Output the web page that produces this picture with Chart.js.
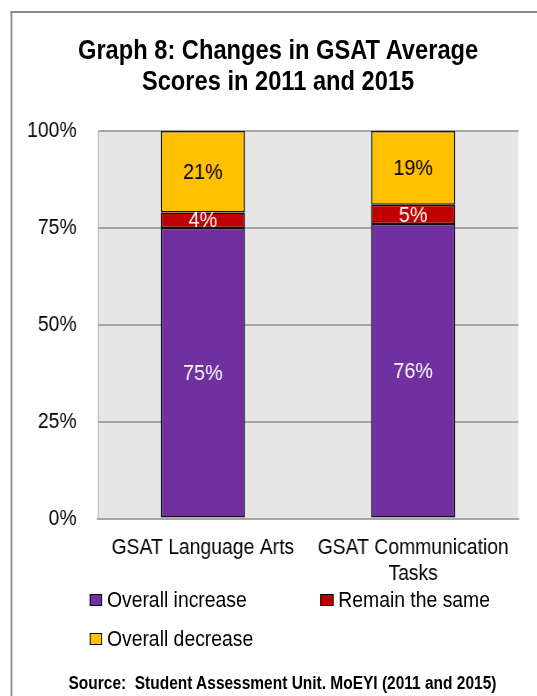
<!DOCTYPE html>
<html>
<head>
<meta charset="utf-8">
<script src="https://cdn.jsdelivr.net/npm/chart.js@4/dist/chart.umd.min.js"></script>
<style>
  html, body { margin: 0; padding: 0; background: #fff; overflow: hidden; }
  body { width: 537px; height: 696px; position: relative; }
  #wrap { position: absolute; left: 0; top: 0; width: 610px; height: 696px; transform: scaleX(0.88); transform-origin: 0 0; font-family: "Liberation Sans", Arial, sans-serif; color: #000; }
  #frame { position: absolute; left: 11.5px; top: 11px; width: 700px; height: 800px; border-left: 2px solid #8a8a8a; border-top: 2px solid #8a8a8a; }
  #title { position: absolute; left: 0; width: 632px; top: 35.3px; text-align: center; font-weight: bold; font-size: 26.9px; line-height: 31px; }
  canvas { position: absolute; left: 0; top: 0; }
  .leg { position: absolute; font-size: 22px; line-height: 26px; white-space: nowrap; }
  .box { position: absolute; width: 12.5px; height: 10.5px; border: 1px solid #000; top: 7.3px; }
  .leg .txt { position: absolute; white-space: nowrap; }
  #source { position: absolute; left: 0; width: 642px; top: 673px; text-align: center; font-weight: bold; font-size: 17.6px; line-height: 20px; }
</style>
</head>
<body>
<div id="wrap">
  <div id="frame"></div>
  <div id="title">Graph 8: Changes in GSAT Average<br>Scores in 2011 and 2015</div>
  <canvas id="c" width="610" height="696"></canvas>
  <div id="legend"></div>
  <div id="source">Source:&nbsp; Student Assessment Unit. MoEYI (2011 and 2015)</div>
</div>
<script>
// ---- data ----
const categories = ['GSAT Language Arts', ['GSAT Communication', 'Tasks']];
const seriesNames = ['Overall increase', 'Remain the same', 'Overall decrease'];
const overallIncrease = [75, 76];
const remainSame = [4, 5];
const overallDecrease = [21, 19];
const yTickValues = [0, 25, 50, 75, 100];

// ---- styles ----
const colors = ['#7030A0', '#C00000', '#FFC000'];
const labelColors = ['#ffffff', '#ffffff', '#000000'];
const FONT = '"Liberation Sans", Arial, sans-serif';

const bgPlugin = {
  id: 'plotBg',
  beforeDraw(chart) {
    const a = chart.chartArea, ctx = chart.ctx;
    ctx.save();
    ctx.fillStyle = '#e6e6e6';
    ctx.fillRect(a.left, a.top, a.right - a.left, a.bottom - a.top);
    ctx.restore();
  }
};

const labelPlugin = {
  id: 'segLabels',
  afterDatasetsDraw(chart) {
    const ctx = chart.ctx;
    ctx.save();
    ctx.font = '22.5px ' + FONT;
    ctx.textAlign = 'center';
    ctx.textBaseline = 'middle';
    chart.data.datasets.forEach((ds, di) => {
      const meta = chart.getDatasetMeta(di);
      meta.data.forEach((el, i) => {
        const v = ds.data[i];
        const y = (el.y + el.base) / 2 + 1;
        ctx.fillStyle = labelColors[di];
        ctx.fillText(v + '%', el.x, y);
      });
    });
    ctx.restore();
  }
};

const seriesData = [overallIncrease, remainSame, overallDecrease];
const datasets = seriesNames.map((name, i) => ({
  label: name,
  data: seriesData[i],
  backgroundColor: colors[i],
  borderColor: '#111',
  borderWidth: 1.5,
  borderSkipped: false,
  barPercentage: 0.4,
  categoryPercentage: 1.0
}));

new Chart(document.getElementById('c'), {
  type: 'bar',
  data: { labels: categories, datasets },
  options: {
    responsive: false,
    animation: false,
    devicePixelRatio: 1,
    layout: { padding: { top: 131, left: 0, right: 21, bottom: 97.5 } },
    plugins: { legend: { display: false }, title: { display: false }, tooltip: { enabled: false } },
    scales: {
      x: {
        stacked: true,
        grid: { display: false, drawTicks: false },
        border: { display: true, color: '#a6a6a6', width: 2 },
        ticks: { color: '#000', padding: 16, font: { family: FONT, size: 22, lineHeight: 1.18 }, maxRotation: 0, autoSkip: false },
        afterFit(s) { s.height = 80; }
      },
      y: {
        stacked: true,
        min: 0, max: 100,
        afterBuildTicks(s) { s.ticks = yTickValues.map(v => ({ value: v })); },
        grid: { color: '#a6a6a6', lineWidth: 2, drawTicks: false },
        border: { display: true, color: '#b0b0b0', width: 1 },
        ticks: { color: '#000', padding: 24, font: { family: FONT, size: 22 }, callback: v => v + '%' },
        afterFit(s) { s.width = 111; }
      }
    }
  },
  plugins: [bgPlugin, labelPlugin]
});

// ---- HTML legend ----
const legendPos = [
  { left: 101.5, top: 586.7 },
  { left: 364.4, top: 586.7 },
  { left: 101.5, top: 625.7 }
];
const legend = document.getElementById('legend');
seriesNames.forEach((name, i) => {
  const d = document.createElement('div');
  d.className = 'leg';
  d.style.left = legendPos[i].left + 'px';
  d.style.top = legendPos[i].top + 'px';
  const b = document.createElement('span');
  b.className = 'box';
  b.style.left = '0px';
  b.style.background = colors[i];
  const t = document.createElement('span');
  t.className = 'txt';
  t.style.left = '20px';
  t.textContent = name;
  d.appendChild(b); d.appendChild(t);
  legend.appendChild(d);
});
</script>
</body>
</html>
